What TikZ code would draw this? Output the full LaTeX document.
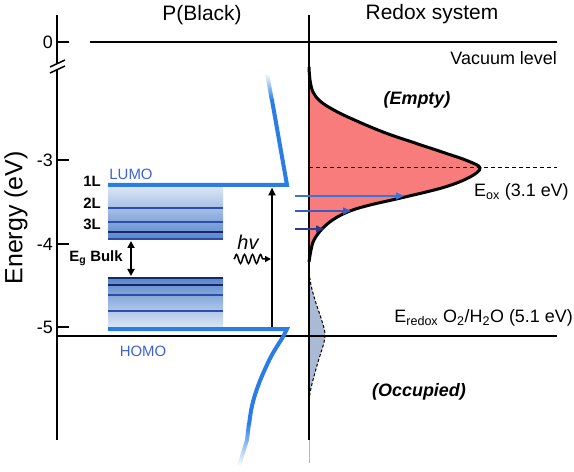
\documentclass[tikz,border=0pt]{standalone}
\usepackage{fontspec}
\setmainfont{Liberation Sans}
\usetikzlibrary{arrows.meta,decorations.pathmorphing}
\definecolor{levelblue}{RGB}{42,125,228}
\definecolor{labelblue}{RGB}{62,98,210}
\definecolor{bandlight}{RGB}{222,232,246}
\definecolor{banddark}{RGB}{86,132,204}
\definecolor{bandline}{RGB}{44,78,168}
\definecolor{banddeep}{RGB}{26,40,105}
\definecolor{emptyred}{RGB}{248,124,124}
\definecolor{occgray}{RGB}{170,186,212}
\definecolor{arrowA}{RGB}{58,115,218}
\definecolor{arrowB}{RGB}{55,92,192}
\definecolor{arrowC}{RGB}{45,58,135}
\def\fsz#1{\fontsize{#1}{#1}\selectfont}
\tikzset{
	axisline/.style={line width=2.5bp},
	level/.style={line width=4bp, color=levelblue},
	bandln/.style={line width=1.3bp, color=bandline},
	txt/.style={inner sep=0pt, font=\fsz{18}},
	bold/.style={inner sep=0pt, font=\fsz{15}\bfseries},
	tip/.style={-{Triangle[length=8bp,width=7bp]}},
}

\begin{document}
\begin{tikzpicture}[x=1bp, y=-1bp]
	%%%%% START %%%%%
	\useasboundingbox (0,0) rectangle (574,472);
	
	\node[txt, font=\fsz{21}] (pblack) at (202,15) {P(Black)};
	\node[txt, font=\fsz{21}] (redox) at (432,14) {Redox system};
	\node[txt, font=\fsz{25}, rotate=90] (energy) at (16,218) {Energy (eV)};
	
	\shade[top color=bandlight, bottom color=banddark] (108,186) rectangle (223,240);
	\foreach \y in {208,222,239} \draw[bandln] (108,\y) -- (223,\y);
	\draw[bandln, color=banddeep] (108,232) -- (223,232);
	\shade[top color=banddark, bottom color=bandlight] (108,277) rectangle (223,328);
	\foreach \y in {278,285} \draw[bandln, color=banddeep] (108,\y) -- (223,\y);
	\foreach \y in {295,311} \draw[bandln] (108,\y) -- (223,\y);
	
	\draw[axisline] (57,15) -- (57,63);
	\draw[axisline] (57,69) -- (57,440);
	\draw[line width=1.5bp] (50,67) -- (65,60);
	\draw[line width=1.5bp] (50,73) -- (65,66);
	\foreach \y/\t/\n in {42/0/0,160/-3/3,244/-4/4,327/-5/5} {
		\draw[axisline] (57,\y) -- (69,\y);
		\node[txt, anchor=east] (tick\n) at (53,\y) {\t};
	}
	\draw[axisline] (90,42) -- (557,42);
	\node[txt, anchor=east] (vacuum) at (557,58) {Vacuum level};
	
	\draw[line width=3bp, fill=emptyred] plot[smooth, tension=0.6] coordinates {(309,67) (310,80) (313,92) (320,101) (332,109) (350,118) (383,132) (415,143) (445,153) (468,161) (480,168) (470,177) (445,187) (405,197) (370,205) (350,211) (334,219) (322,229) (314,240) (311,250) (309,262)};
	\draw[line width=1bp, dash pattern=on 4bp off 3bp] (309,168) -- (557,168);
	\node[txt, anchor=west] (eox) at (474,192) {E\textsubscript{ox} (3.1 eV)};
	\node[txt, font=\fsz{18}\bfseries\itshape] (empty) at (417,100) {(Empty)};
	
	\draw[line width=1bp, dash pattern=on 3bp off 2bp, fill=occgray] plot[smooth, tension=0.6] coordinates {(309,272) (311,285) (315,300) (320,315) (324,328) (325,336) (323,346) (318,362) (313,380) (310,393) (309,402)};
	\node[txt, font=\fsz{18}\bfseries\itshape] (occupied) at (419,392) {(Occupied)};
	
	\draw[line width=2bp] (309,15) -- (309,440);
	\draw[line width=1bp, color=occgray] (309,440) -- (309,463);
	\draw[line width=2bp] (57,336) -- (557,336);
	\node[txt, anchor=east] (eredox) at (573,318) {E\textsubscript{redox} O\textsubscript{2}/H\textsubscript{2}O (5.1 eV)};
	
	\coordinate (a1) at (295,196); \coordinate (b1) at (404,196);
	\coordinate (a2) at (295,211); \coordinate (b2) at (351,211);
	\coordinate (a3) at (295,229); \coordinate (b3) at (324,229);
	\draw[line width=1.5bp, color=arrowA, tip] (a1) -- (b1);
	\draw[line width=1.5bp, color=arrowB, tip] (a2) -- (b2);
	\draw[line width=1.5bp, color=arrowC, tip] (a3) -- (b3);
	
	\draw[level, line join=miter] (108,185) -- (287,185) -- (271.8,99);
	\shade[top color=white, bottom color=levelblue] (269.8,100) -- (273.8,100) -- (269,73) -- (265,73) -- cycle;
	\draw[level, line join=miter] (108,329) -- (287,329) -- (283,337);
	\draw[level] plot[smooth, tension=0.7] coordinates {(283,337) (273,353) (266,367) (258,386) (252,406) (249,425)};
	\shade[top color=levelblue, bottom color=white] (247,423) -- (251,423) -- (249,440) -- (241,466) -- (237,466) -- (245,440) -- cycle;
	\node[inner sep=0pt, font=\fsz{15}, color=labelblue] (lumo) at (131,174) {LUMO};
	\node[inner sep=0pt, font=\fsz{15}, color=labelblue] (homo) at (143,351) {HOMO};
	
	\node[bold] (l1) at (92,181) {1L};
	\node[bold] (l2) at (92,203) {2L};
	\node[bold] (l3) at (92,224) {3L};
	\node[bold] (gap) at (96,258) {E\textsubscript{g} Bulk};
	\coordinate (gtop) at (131,241); \coordinate (gbot) at (131,276);
	\draw[line width=2bp, {Triangle[length=7bp,width=7bp]}-{Triangle[length=7bp,width=7bp]}] (gtop) -- (gbot);
	
	\coordinate (homoarr) at (272,327); \coordinate (lumoarr) at (272,187.5);
	\draw[line width=2bp, tip] (homoarr) -- (lumoarr);
	\node[inner sep=0pt, font=\fsz{20}\itshape] (hv) at (248,242) {hv};
	\coordinate (wave) at (234,259); \coordinate (waveend) at (271,259);
	\draw[line width=1.5bp, decorate, decoration={snake, amplitude=4.5bp, segment length=8bp, post length=4bp}, -{Triangle[length=6bp,width=6bp]}] (wave) -- (waveend);
	
	%%%%% END %%%%%
\end{tikzpicture}
\end{document}
